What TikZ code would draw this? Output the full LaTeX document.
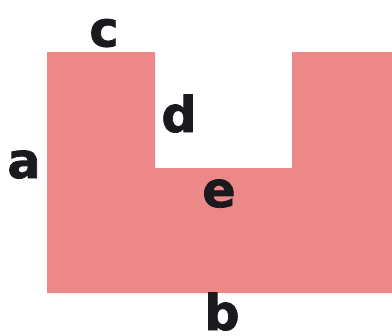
\documentclass[tikz,border=0pt]{standalone}
\usepackage{fontspec}
\setmainfont{DejaVu Sans}[BoldFeatures={FakeBold=1.5}]
\usepackage{tikz}
\usetikzlibrary{positioning}
\definecolor{ushape}{RGB}{236,137,136}
\definecolor{lbltext}{RGB}{26,26,30}
\tikzset{lbl/.style={font=\fontsize{42}{46}\selectfont\bfseries, inner sep=0pt, anchor=base, text=lbltext}}

\begin{document}
\begin{tikzpicture}[x=0.03cm, y=-0.03cm]
    % Frame
    \useasboundingbox (0,0) rectangle (392,336);
    \clip (0,0) rectangle (392,336);

    % U shape
    \fill[ushape] (47,52) -- (155,52) -- (155,168) -- (292,168) -- (292,52)
        -- (392,52) -- (392,293) -- (47,293) -- cycle;

    % Side labels
    \node[lbl] (lc) at (104,46.5) {c};
    \node[lbl] (la) at (24,178) {a};
    \node[lbl] (ld) at (179,132) {d};
    \node[lbl] (le) at (219,207) {e};
    \node[lbl] (lb) at (222,330) {b};
\end{tikzpicture}
\end{document}
